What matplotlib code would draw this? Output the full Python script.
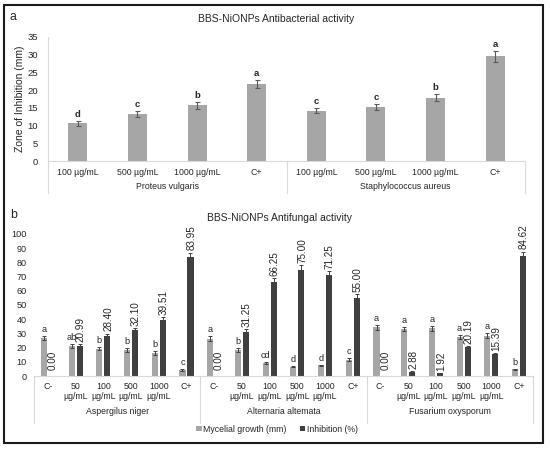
import matplotlib
matplotlib.use("Agg")
import matplotlib.pyplot as plt
import matplotlib.transforms as mtrans
from matplotlib.patches import Rectangle, Patch
from matplotlib.lines import Line2D
import numpy as np

plt.rcParams['font.family'] = ['Liberation Sans', 'DejaVu Sans']

# ---- Panel a data ----
a_cats = ["100 µg/mL", "500 µg/mL", "1000 µg/mL", "C+",
          "100 µg/mL", "500 µg/mL", "1000 µg/mL", "C+"]
a_groups = ["Proteus vulgaris", "Staphylococcus aureus"]
a_vals = [10.6, 13.2, 15.7, 21.7, 14.2, 15.3, 17.9, 29.5]
a_err = [0.6, 0.8, 0.9, 1.2, 0.75, 0.9, 1.0, 1.6]
a_letters = ["d", "c", "b", "a", "c", "c", "b", "a"]

# ---- Panel b data ----
b_cats = ["C-", "50\nµg/mL", "100\nµg/mL", "500\nµg/mL", "1000\nµg/mL", "C+"] * 3
b_groups = ["Aspergilus niger", "Alternaria altemata", "Fusarium oxysporum"]
myc = [26.9, 21.2, 19.3, 18.2, 16.3, 4.2,
       26.4, 18.2, 9.2, 6.6, 7.5, 11.6,
       34.2, 33.0, 33.7, 27.4, 28.5, 4.7]
myc_err = [1.5, 1.3, 1.2, 1.2, 1.3, 0.5,
           1.5, 1.3, 0.6, 0.4, 0.5, 0.8,
           1.8, 1.6, 1.8, 1.5, 1.7, 0.4]
myc_letters = ["a", "ab", "b", "b", "b", "c",
               "a", "b", "cd", "d", "d", "c",
               "a", "a", "a", "a", "a", "b"]
inh = [0.00, 20.99, 28.40, 32.10, 39.51, 83.95,
       0.00, 31.25, 66.25, 75.00, 71.25, 55.00,
       0.00, 2.88, 1.92, 20.19, 15.39, 84.62]
inh_err = [0, 1.2, 1.5, 1.6, 1.8, 3.0,
           0, 1.6, 2.5, 3.0, 2.5, 2.5,
           0, 0.4, 0.4, 1.0, 1.0, 3.0]

W, H = 550, 449
fig = plt.figure(figsize=(5.5, 4.49), dpi=100)

def fx(px):
    return px / W

def fy(py):
    return 1 - py / H

LIGHT = "#a6a6a6"
DARK = "#404040"
AXC = "#d9d9d9"
TXT = "#262626"
FS = 6.3

# frame
fig.patches.append(Rectangle((fx(4), fy(443)), fx(543) - fx(4), fy(5) - fy(443),
                             transform=fig.transFigure, fill=False,
                             edgecolor="#1a1a1a", lw=1.5))

# ---------------- Panel a ----------------
axa = fig.add_axes([fx(48), fy(161), fx(525) - fx(48), fy(37) - fy(161)])
xa = np.arange(len(a_vals))
axa.bar(xa, a_vals, width=0.32, color=LIGHT, zorder=2)
axa.errorbar(xa, a_vals, yerr=a_err, fmt="none", ecolor="#595959",
             elinewidth=0.8, capsize=1.8, capthick=0.8, zorder=3)
for x, v, e, l in zip(xa, a_vals, a_err, a_letters):
    axa.annotate(l, (x, v + e), xytext=(0, 1.5), textcoords="offset points",
                 ha="center", va="bottom", fontsize=FS + 0.5, color=TXT,
                 fontweight="bold")
axa.set_xlim(-0.5, len(a_vals) - 0.5)
axa.set_ylim(0, 35)
axa.set_yticks(range(0, 36, 5))
axa.set_xticks([])
for s in ["top", "right"]:
    axa.spines[s].set_visible(False)
for s in ["bottom", "left"]:
    axa.spines[s].set_color(AXC)
    axa.spines[s].set_linewidth(0.8)
axa.tick_params(axis="y", length=0, pad=7, labelsize=FS + 0.5, labelcolor=TXT)
axa.set_ylabel("Zone of Inhibition (mm)", fontsize=FS + 1.2, color=TXT)
axa.yaxis.set_label_coords(-0.048, 0.5)
ta = mtrans.blended_transform_factory(axa.transData, fig.transFigure)
for x, c in zip(xa, a_cats):
    axa.text(x, fy(172), c, transform=ta, ha="center", va="center",
             fontsize=FS, color=TXT)
for gi, g in enumerate(a_groups):
    axa.text(gi * 4 + 1.5, fy(187), g, transform=ta, ha="center", va="center",
             fontsize=FS, color=TXT)
for bx in [-0.5, 3.5, 7.5]:
    axa.add_line(Line2D([bx, bx], [fy(161), fy(193)], transform=ta, color=AXC,
                        lw=0.8, clip_on=False))
fig.text(fx(276), fy(19), "BBS-NiONPs Antibacterial activity", ha="center",
         va="center", fontsize=FS + 1.2, color=TXT)
fig.text(fx(10), fy(17), "a", ha="left", va="center", fontsize=FS + 2.5, color=TXT)

# ---------------- Panel b ----------------
axb = fig.add_axes([fx(34), fy(376), fx(533) - fx(34), fy(234) - fy(376)])
xb = np.arange(len(myc))
off = 0.145
bw = 0.22
axb.bar(xb - off, myc, width=bw, color=LIGHT, zorder=2)
axb.bar(xb + off, inh, width=bw, color=DARK, zorder=2)
axb.errorbar(xb - off, myc, yerr=myc_err, fmt="none", ecolor="#404040",
             elinewidth=0.7, capsize=1.5, capthick=0.7, zorder=3)
ie = np.array(inh_err)
mask = ie > 0
axb.errorbar((xb + off)[mask], np.array(inh)[mask], yerr=ie[mask], fmt="none",
             ecolor="#404040", elinewidth=0.7, capsize=1.5, capthick=0.7, zorder=3)
for x, v, e, l in zip(xb, myc, myc_err, myc_letters):
    axb.annotate(l, (x - off, v + e), xytext=(0, 1.5), textcoords="offset points",
                 ha="center", va="bottom", fontsize=FS + 0.3, color=TXT)
for x, v, e in zip(xb, inh, inh_err):
    yb = v + e
    dy = 1.5 if v > 0 else 4.5
    axb.annotate(f"{v:.2f}", (x + off + 0.03, yb), xytext=(0, dy),
                 textcoords="offset points", ha="center", va="bottom",
                 rotation=90, fontsize=FS + 0.8, color=TXT)
axb.set_xlim(-0.5, len(myc) - 0.5)
axb.set_ylim(0, 100)
axb.set_yticks(range(0, 101, 10))
axb.set_xticks([])
for s in ["top", "right", "left"]:
    axb.spines[s].set_visible(False)
axb.spines["bottom"].set_color(AXC)
axb.spines["bottom"].set_linewidth(0.8)
axb.tick_params(axis="y", length=0, pad=5, labelsize=FS + 0.3, labelcolor=TXT)
tb = mtrans.blended_transform_factory(axb.transData, fig.transFigure)
for x, c in zip(xb, b_cats):
    axb.text(x, fy(382), c, transform=tb, ha="center", va="top",
             fontsize=FS, color=TXT, linespacing=1.15)
for gi, g in enumerate(b_groups):
    axb.text(gi * 6 + 2.5, fy(411), g, transform=tb, ha="center", va="center",
             fontsize=FS, color=TXT)
for bx in [-0.5, 5.5, 11.5, 17.5]:
    axb.add_line(Line2D([bx, bx], [fy(376), fy(423)], transform=tb, color=AXC,
                        lw=0.8, clip_on=False))
fig.text(fx(280), fy(218), "BBS-NiONPs Antifungal activity", ha="center",
         va="center", fontsize=FS + 1.2, color=TXT)
fig.text(fx(10), fy(215), "b", ha="left", va="center", fontsize=FS + 2.5, color=TXT)

handles = [Patch(facecolor=LIGHT, edgecolor="none"), Patch(facecolor=DARK, edgecolor="none")]
fig.legend(handles, ["Mycelial growth (mm)", "Inhibition (%)"], loc="center",
           bbox_to_anchor=(fx(277), fy(429)), ncol=2, frameon=False,
           fontsize=FS, handlelength=0.6, handleheight=0.6, handletextpad=0.2,
           columnspacing=1.5, labelcolor=TXT)

fig.savefig("out.png", dpi=100)
